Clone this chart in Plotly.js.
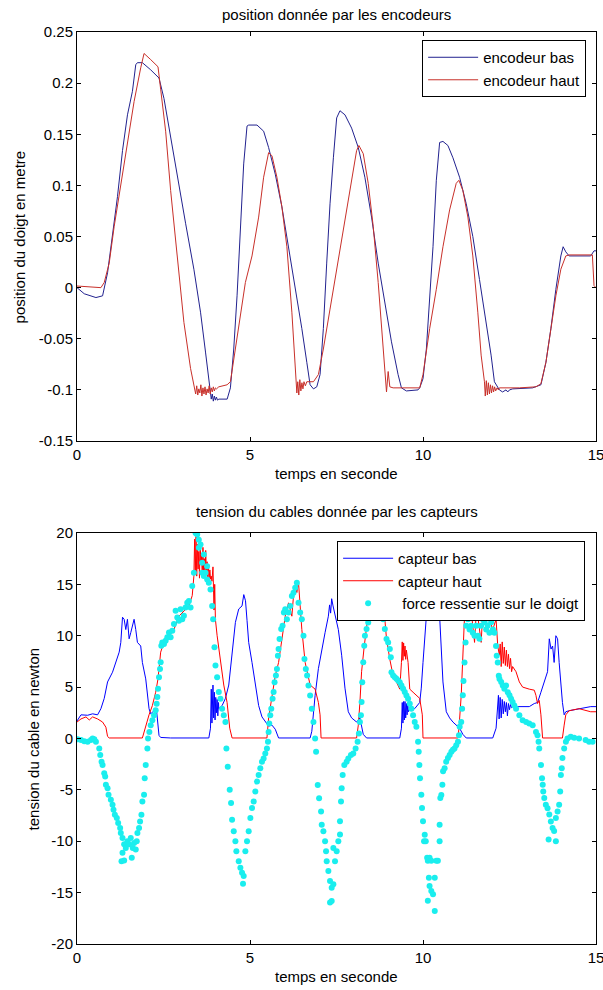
<!DOCTYPE html>
<html>
<head>
<meta charset="utf-8">
<script src="https://cdn.plot.ly/plotly-3.0.1.min.js"></script>
<style>html,body{margin:0;padding:0;background:#fff;}#chart{width:603px;height:990px;}</style>
</head>
<body>
<div id="chart"></div>
<script>
// ---- Titles / labels ----
const topTitle = "position donnée par les encodeurs";
const bottomTitle = "tension du cables donnée par les capteurs";
const xLabel = "temps en seconde";
const topYLabel = "position du doigt en metre";
const bottomYLabel = "tension du cable en newton";
const seriesNames = ["encodeur bas", "encodeur haut", "capteur bas", "capteur haut", "\u00a0force ressentie sur le doigt"];

// ---- Tick labels ----
const xTickVals = [0, 5, 10, 15];
const xTickText = ["0", "5", "10", "15"];
const topYTickVals = [-0.15, -0.1, -0.05, 0, 0.05, 0.1, 0.15, 0.2, 0.25];
const topYTickText = ["-0.15", "-0.1", "-0.05", "0", "0.05", "0.1", "0.15", "0.2", "0.25"];
const botYTickVals = [-20, -15, -10, -5, 0, 5, 10, 15, 20];
const botYTickText = ["-20", "-15", "-10", "-5", "0", "5", "10", "15", "20"];

// ---- encodeur bas (top, blue) ----
const encBasT = [0, 0.21, 0.547, 0.739, 0.883, 1.027, 1.17, 1.315, 1.459, 1.602, 1.698, 1.746, 1.89, 2.13, 2.37, 2.514, 2.706, 2.898, 3.138, 3.378, 3.57, 3.714, 3.81, 3.858,
  3.88, 3.91, 3.94, 3.97, 4.0, 4.03, 4.06, 4.1, 4.34, 4.434, 4.53, 4.626, 4.722, 4.818, 4.914,
  4.962, 5.202, 5.394, 5.538, 5.73, 5.922, 6.114, 6.306, 6.498, 6.642, 6.737, 6.834, 6.93, 7.025, 7.12, 7.217, 7.313, 7.41, 7.505, 7.6, 7.745, 7.937, 8.13, 8.32, 8.513, 8.705, 8.897, 9.089, 9.28, 9.377, 9.52, 9.856,
  9.905, 10.0, 10.097, 10.193, 10.289, 10.385, 10.481, 10.577, 10.72, 10.865, 11.057, 11.249, 11.44, 11.632, 11.824, 11.968, 12.064, 12.208, 12.3, 12.4, 12.45, 12.5, 12.592, 13.168, 13.408, 13.553, 13.696, 13.84, 13.984, 14.05, 14.127, 14.223, 14.847, 14.943, 15.0];
const encBasV = [0, -0.006, -0.0097, -0.008, 0.0145, 0.05, 0.089, 0.134, 0.169, 0.192, 0.218, 0.22, 0.22, 0.213, 0.205, 0.185, 0.147, 0.108, 0.063, 0.018, -0.024, -0.063, -0.092, -0.105,
  -0.109, -0.104, -0.111, -0.106, -0.11, -0.107, -0.11, -0.109, -0.109, -0.098, -0.06, -0.008, 0.056, 0.121, 0.158,
  0.159, 0.159, 0.153, 0.137, 0.111, 0.079, 0.04, -0.0016, -0.04, -0.073, -0.095, -0.099, -0.097, -0.085, -0.04, 0.024, 0.082, 0.127, 0.166, 0.173, 0.169, 0.156, 0.137, 0.108, 0.069, 0.024, -0.0145, -0.053, -0.085, -0.098, -0.101, -0.1,
  -0.098, -0.089, -0.06, -0.0145, 0.04, 0.105, 0.142, 0.143, 0.139, 0.127, 0.108, 0.082, 0.05, 0.008, -0.034, -0.066, -0.092, -0.1, -0.102, -0.1, -0.102, -0.1, -0.099, -0.098, -0.095, -0.073, -0.04, -0.0016, 0.031, 0.04, 0.035, 0.031, 0.031, 0.036, 0.036];

// ---- encodeur haut (top, red) ----
const encHautT = [0, 0.307, 0.691, 0.787, 0.931, 1.075, 1.266, 1.458, 1.65, 1.842, 1.938, 2.13, 2.341, 2.418, 2.562, 2.706, 2.898, 3.09, 3.282, 3.378,
  3.40, 3.43, 3.46, 3.49, 3.52, 3.55, 3.58, 3.61, 3.64, 3.67, 3.70, 3.73, 3.76, 3.79, 3.82, 3.85, 3.88, 3.91, 3.94, 3.97, 4.00, 4.03,
  4.098, 4.338, 4.434, 4.578, 4.722, 4.866, 5.058, 5.25, 5.394, 5.538, 5.634, 5.778, 5.922, 6.066, 6.21, 6.306, 6.354,
  6.38, 6.41, 6.44, 6.47, 6.50, 6.53, 6.56, 6.6,
  6.642, 6.834, 6.977, 7.12, 7.313, 7.505, 7.697, 7.889, 8.081, 8.148, 8.273, 8.417, 8.561, 8.705, 8.8, 8.897, 8.945, 8.993, 9.041, 9.137, 9.473, 9.905,
  10.0, 10.193, 10.385, 10.577, 10.769, 10.96, 11.037, 11.153, 11.297, 11.44, 11.584, 11.68, 11.776,
  11.80, 11.83, 11.86, 11.89, 11.92, 11.95, 11.98, 12.01, 12.04, 12.07, 12.10, 12.14, 12.18,
  12.208, 12.784, 13.264, 13.408, 13.553, 13.696, 13.84, 13.984, 14.127, 14.223, 14.895, 14.943, 15.0];
const encHautV = [0.0016, 0.001, 0, 0.005, 0.024, 0.06, 0.102, 0.144, 0.182, 0.215, 0.229, 0.223, 0.216, 0.194, 0.153, 0.095, 0.027, -0.034, -0.079, -0.098,
  -0.098, -0.104, -0.096, -0.105, -0.099, -0.103, -0.095, -0.106, -0.098, -0.104, -0.097, -0.105, -0.099, -0.103, -0.096, -0.104, -0.098, -0.102, -0.097, -0.101, -0.098, -0.099,
  -0.097, -0.095, -0.092, -0.06, -0.024, 0.005, 0.031, 0.069, 0.108, 0.132, 0.129, 0.108, 0.079, 0.04, -0.024, -0.073, -0.103,
  -0.092, -0.105, -0.09, -0.101, -0.093, -0.099, -0.092, -0.096,
  -0.092, -0.092, -0.085, -0.06, -0.021, 0.018, 0.056, 0.098, 0.134, 0.139, 0.131, 0.102, 0.06, 0.005, -0.04, -0.089, -0.102, -0.082, -0.097, -0.098, -0.098, -0.098,
  -0.085, -0.04, -0.0016, 0.04, 0.076, 0.102, 0.105, 0.095, 0.069, 0.031, -0.024, -0.066, -0.092,
  -0.106, -0.091, -0.105, -0.093, -0.104, -0.095, -0.103, -0.096, -0.102, -0.097, -0.101, -0.098, -0.1,
  -0.098, -0.098, -0.097, -0.094, -0.073, -0.04, -0.008, 0.018, 0.031, 0.032, 0.032, 0.002, 0.0];

// ---- capteur bas (bottom, blue) ----
const capBasT = [0, 0.115, 0.307, 0.451, 0.595, 0.691, 0.787, 0.883, 1.027, 1.123, 1.219, 1.266, 1.315, 1.363, 1.41, 1.458, 1.506, 1.554, 1.65, 1.698, 1.746, 1.842, 1.89, 1.986, 2.082, 2.13, 2.226, 2.303, 2.37, 2.418, 2.706, 3.81, 3.858,
  3.88, 3.90, 3.93, 3.95, 3.97, 3.99, 4.01, 4.03, 4.05, 4.07, 4.09,
  4.098, 4.194, 4.29, 4.386, 4.482, 4.578, 4.674, 4.77, 4.82, 4.87, 4.914, 4.962, 5.058, 5.154, 5.25, 5.346, 5.442, 5.538, 5.634, 5.73, 5.826, 6.738, 6.786, 6.882, 6.977, 7.073, 7.169, 7.265, 7.3, 7.33, 7.36, 7.4, 7.457, 7.553, 7.649, 7.745, 7.841, 7.937, 8.081, 8.177, 8.273, 8.369, 9.329, 9.377,
  9.40, 9.42, 9.44, 9.46, 9.48, 9.50, 9.52, 9.54, 9.56, 9.58,
  9.617, 9.76, 9.905, 9.95, 10.0, 10.049, 10.097, 10.15, 10.25, 10.35, 10.45, 10.481, 10.529, 10.577, 10.673, 10.769, 10.865, 10.96, 11.057, 11.153, 11.249, 12.016, 12.112, 12.18,
  12.20, 12.23, 12.26, 12.29, 12.32, 12.35, 12.38, 12.41, 12.44, 12.47, 12.50, 12.53, 12.56,
  12.592, 12.784, 13.072, 13.216, 13.312, 13.408, 13.504, 13.6, 13.65, 13.7, 13.745, 13.79, 13.84, 13.89, 13.935, 13.984, 14.03, 14.08, 14.127, 14.223, 14.51, 14.847, 15.0];
const capBasV = [1.7, 2.3, 2.26, 2.4, 2.3, 2.9, 3.9, 5.5, 6.45, 7.4, 8.4, 9.35, 11.8, 11.6, 10.6, 11.6, 9.7, 10.3, 11.6, 10.6, 9.35, 9.0, 7.4, 5.8, 2.9, 2.4, 2.7, 2.6, 0.3, 0.1, 0.05, 0.05, 1.0,
  4.8, 1.5, 5.2, 2.0, 4.5, 1.8, 4.0, 2.5, 3.8, 2.2, 3.5,
  2.9, 3.2, 3.9, 5.2, 8.1, 11.3, 12.6, 12.9, 14.0, 13.4, 11.5, 9.35, 7.4, 5.5, 3.2, 2.1, 1.6, 1.2, 1.3, 0.9, 0.05, 0.05, 0.7, 4.2, 6.8, 8.7, 10.3, 11.9, 13.0, 12.2, 13.6, 12.9, 12.0, 10.6, 8.1, 4.9, 2.6, 2.0, 1.6, 2.0, 0.4, 0.05, 0.05, 1.0,
  3.5, 1.5, 3.6, 1.8, 3.6, 2.0, 3.4, 2.3, 3.3, 2.6,
  2.9, 2.9, 3.5, 4.9, 7.4, 9.7, 11.9, 13.0, 12.6, 13.2, 12.8, 11.9, 8.4, 5.5, 2.6, 2.0, 1.6, 1.3, 1.0, 0.4, 0.05, 0.05, 1.0, 4.2,
  1.9, 4.0, 2.0, 3.8, 2.4, 3.6, 2.6, 3.5, 2.2, 3.4, 2.8, 3.3, 3.0,
  3.1, 3.1, 3.1, 3.4, 3.5, 4.5, 5.5, 6.5, 9.7, 8.7, 9.0, 7.4, 10.0, 9.7, 7.4, 5.2, 3.5, 2.3, 2.6, 2.7, 2.9, 3.1, 3.1];

// ---- capteur haut (bottom, red) ----
const capHautT = [0, 0.115, 0.259, 0.355, 0.451, 0.595, 0.739, 0.835, 0.883, 0.931, 1.89, 1.986, 2.082, 2.178, 2.274, 2.341, 2.418, 2.514, 2.658, 2.802, 2.946, 3.09, 3.234, 3.33, 3.378,
  3.40, 3.42, 3.44, 3.46, 3.48, 3.50, 3.52, 3.54, 3.56, 3.58, 3.60, 3.62, 3.64, 3.66, 3.68, 3.70, 3.72, 3.74, 3.76, 3.78, 3.80, 3.82, 3.84, 3.86, 3.88, 3.90, 3.93, 3.96, 3.98,
  4.0, 4.05, 4.146, 4.242, 4.338, 4.414, 4.482, 5.49, 5.538, 5.634, 5.73, 5.826, 5.922, 6.018, 6.114, 6.21, 6.258, 6.306, 6.354, 6.402, 6.45, 6.498, 6.594, 6.738, 6.882, 6.977, 7.025, 7.054,
  8.081, 8.13, 8.177, 8.225, 8.302, 8.369, 8.417, 8.5, 8.6, 8.7, 8.8, 8.897, 8.945, 9.041, 9.137, 9.233, 9.329, 9.377,
  9.40, 9.42, 9.44, 9.46, 9.48, 9.50, 9.52,
  9.569, 9.617, 9.713, 9.809, 9.905, 9.98, 10.0, 11.01, 11.04, 11.105, 11.153, 11.2, 11.25, 11.3, 11.345, 11.39, 11.49, 11.54, 11.585, 11.68, 11.73, 11.825, 11.92, 12.016, 12.112, 12.16, 12.208,
  12.23, 12.26, 12.29, 12.32, 12.35, 12.38, 12.41, 12.44, 12.47, 12.50, 12.53, 12.56, 12.59,
  12.688, 12.784, 12.88, 13.072, 13.216, 13.264, 13.31, 13.36, 13.408, 13.456, 14.03, 14.08, 14.127, 14.223, 14.51, 14.847, 15.0];
const capHautV = [1.6, 1.9, 2.1, 1.8, 2.1, 1.9, 1.6, 1.1, 0.2, 0.05, 0.05, 1.3, 2.3, 3.2, 4.5, 5.8, 8.4, 9.35, 10.0, 10.6, 11.9, 12.4, 12.9, 13.9, 15.8,
  19.4, 16.2, 19.8, 15.8, 18.9, 16.5, 18.2, 15.6, 19.2, 16.9, 17.8, 15.9, 18.6, 16.3, 17.5, 15.7, 18.3, 16.1, 17.2, 15.5, 16.8, 15.6, 16.4, 15.5, 15.8, 15.3, 16.7, 12.5, 15.0,
  11.6, 10.0, 7.4, 5.2, 3.5, 1.0, 0.05, 0.05, 2.0, 3.9, 6.1, 7.4, 9.7, 11.9, 13.2, 11.9, 13.9, 14.8, 14.2, 15.2, 12.9, 10.6, 7.4, 5.2, 4.8, 3.5, 2.3, 0.05,
  0.05, 1.3, 3.5, 6.5, 9.0, 10.9, 12.1, 13.2, 12.8, 13.6, 12.9, 11.6, 9.7, 7.7, 6.1, 5.5, 4.8, 7.4,
  9.4, 7.6, 9.3, 8.0, 9.0, 7.7, 8.6,
  7.4, 4.8, 4.5, 4.2, 3.9, 2.3, 0.05, 0.05, 1.0, 4.2, 9.0, 11.9, 13.5, 12.8, 11.9, 12.5, 9.35, 12.3, 11.9, 9.35, 12.4, 11.9, 11.6, 10.6, 11.6, 9.0, 8.1,
  9.2, 7.0, 9.4, 7.3, 8.9, 7.1, 8.6, 7.0, 8.2, 6.8, 7.8, 6.5, 7.0,
  6.5, 5.5, 5.0, 4.8, 4.7, 4.2, 3.4, 3.7, 2.3, 0.05, 0.05, 1.3, 2.3, 2.7, 2.9, 2.6, 2.6];

// ---- force ressentie sur le doigt (bottom, cyan dots) ----
const forceT = [0.019, 0.115, 0.21, 0.307, 0.403, 0.451, 0.5, 0.547, 0.643, 0.672, 0.71, 0.739, 0.787, 0.815, 0.835, 0.883, 0.911, 0.979, 1.027, 1.055, 1.094, 1.151, 1.19, 1.247, 1.266, 1.315, 1.363, 1.315, 1.286, 1.363, 1.41, 1.458, 1.506, 1.554, 1.583, 1.612, 1.65, 1.698, 1.727, 1.746, 1.794, 1.823, 1.862, 1.89, 1.938, 1.957, 1.986, 2.034, 2.053, 2.092, 2.13, 2.178, 2.226, 2.274, 2.303, 2.322, 2.341, 2.37, 2.399, 2.418, 2.437, 2.466, 2.514, 2.562, 2.61, 2.658, 2.706, 2.754, 2.802, 2.85, 2.898, 2.946, 2.994, 3.042, 3.09, 3.138, 3.186, 3.234, 3.282, 3.33, 3.378, 3.426, 3.474, 3.52, 3.522, 3.57, 3.618, 3.618, 3.666, 3.666, 3.714, 3.76, 3.762, 3.81, 3.858, 3.906, 3.935, 3.973, 4.002, 4.05, 4.098, 4.146, 4.194, 4.242, 4.29, 4.318, 4.357, 4.414, 4.453, 4.482, 4.53, 4.578, 4.606, 4.674, 4.722, 4.77, 4.818, 4.798,
  4.866, 4.914, 4.962, 5.01, 5.058, 5.106, 5.154, 5.202, 5.25, 5.298, 5.346, 5.394, 5.442, 5.49, 5.519, 5.538, 5.557, 5.586, 5.615, 5.653, 5.682, 5.71, 5.749, 5.778, 5.806, 5.826, 5.854, 5.902, 5.941, 5.979, 6.018, 6.066, 6.114, 6.162, 6.21, 6.258, 6.306, 6.354, 6.402, 6.45, 6.498, 6.546, 6.574, 6.613, 6.651, 6.69, 6.738, 6.786, 6.834, 6.882, 6.91, 6.958, 6.997, 7.054, 7.073, 7.121, 7.17, 7.198, 7.217, 7.265, 7.313, 7.361, 7.313, 7.361, 7.409, 7.457, 7.409, 7.505, 7.553, 7.601, 7.601, 7.63, 7.649, 7.678, 7.726, 7.793, 7.841, 7.918, 7.985, 8.052, 8.11, 8.148, 8.177, 8.206, 8.225, 8.244, 8.273, 8.302, 8.321, 8.369, 8.417, 8.465, 8.56, 8.65, 8.75, 8.849, 8.897, 8.945, 8.993, 9.041, 9.07, 9.089, 9.137, 9.185, 9.233, 9.281, 9.329, 9.377, 9.425, 9.473, 9.521, 9.569, 9.617, 9.665, 9.713, 9.761, 9.809, 9.857, 9.876, 9.895, 9.914, 9.952, 9.972, 10.0, 10.03,
  10.05, 10.08, 10.12, 10.14, 10.19, 10.24, 10.17, 10.19, 10.24, 10.14, 10.29, 10.34, 10.34, 10.385, 10.43, 10.48, 10.48, 10.5, 10.53, 10.56, 10.58, 10.625, 10.67, 10.72, 10.77, 10.82, 10.865, 10.91, 10.96, 11.01, 11.04, 11.06, 11.105, 11.13, 11.15, 11.17, 11.2, 11.23, 11.25, 11.3, 11.345, 11.39, 11.44, 11.49, 11.54, 11.585, 11.63, 11.68, 11.73, 11.78, 11.825, 11.87, 11.92, 11.97, 12.02, 12.065, 12.11, 12.13, 12.16, 12.19, 12.21, 12.26, 12.305, 12.35, 12.4, 12.45, 12.5, 12.545, 12.59, 12.64, 12.69, 12.785, 12.88, 12.98, 13.07, 13.17, 13.265, 13.31, 13.34, 13.36, 13.41, 13.44, 13.46, 13.475, 13.505, 13.55, 13.6, 13.65, 13.695, 13.745, 13.79, 13.63, 13.84, 13.84, 13.89, 13.935, 13.965, 13.985, 14.01, 14.03, 14.08, 14.13, 14.175, 14.27, 14.37, 14.51, 14.7, 14.8, 14.9];
const forceV = [-0.07, -0.16, -0.26, -0.33, -0.16, 0, -0.07, -0.33, -0.97, -1.6, -2.26, -2.58, -3.39, -3.71, -4.5, -4.84, -5.48, -5.97, -6.45, -6.94, -7.42, -7.74, -8.23, -8.71, -9.2, -9.68, -10.3, -11.13, -11.94, -11.87, -10.65, -10.0, -10.3, -9.68, -11.6, -10.65, -10.16, -10.81, -10.0, -9.2, -8.71, -8.07, -7.42, -6.13, -5.48, -3.87, -2.58, -0.97, 0, 0.64, 1.29, 1.77, 2.26, 2.74, 3.39, 4.03, 4.84, 5.97, 6.77, 7.42, 9.03, 9.35, 9.19, 9.52, 9.84, 10.32, 9.84, 10.48, 11.13, 12.42, 11.77, 11.45, 12.58, 11.61, 11.94, 12.74, 13.22, 13.39, 12.74, 14.84, 16.13, 20.0, 19.84, 19.35, 18.55, 18.87, 17.1, 16.13, 17.9, 15.8, 16.13, 16.77, 15.48, 15.16, 14.5, 12.9, 11.61, 8.87, 7.1, 5.97, 4.52, 3.87, 2.9, 2.26, 1.61, -0.97, -2.74, -5.0, -6.29, -7.9, -9.03, -10.0, -10.97, -11.94, -12.58, -13.07, -13.39, -14.13,
  -10.97, -10.0, -9.03, -7.74, -6.77, -6.13, -5.16, -4.19, -3.55, -2.9, -2.26, -1.94, -1.45, -0.97, -0.33, 0.64, 1.45, 2.26, 2.9, 3.87, 4.52, 5.48, 6.13, 6.77, 8.06, 8.71, 9.68, 10.65, 10.97, 12.26, 12.58, 11.61, 12.26, 12.9, 13.87, 14.19, 14.68, 15.16, 13.22, 12.26, 11.61, 10.0, 7.74, 6.77, 6.13, 5.16, 4.19, 2.9, 1.61, 0, -1.29, -4.52, -5.81, -7.1, -8.39, -9.03, -10.0, -10.97, -11.94, -12.9, -13.87, -14.52, -15.97, -15.81, -14.19, -11.94, -10.65, -10.97, -10.0, -9.35, -8.06, -6.13, -4.84, -3.55, -2.58, -2.26, -1.94, -1.61, -1.45, -0.97, -0.33, 0.48, 1.61, 2.26, 3.55, 5.48, 7.42, 9.03, 10.0, 10.65, 11.29, 11.77, 12.6, 13.4, 13.0, 11.61, 10.65, 9.68, 9.35, 8.71, 7.9, 6.45, 6.13, 5.97, 5.81, 5.65, 5.48, 5.16, 4.84, 4.52, 4.19, 3.87, 3.39, 2.9, 2.26, 1.61, 1.13, -0.33, -1.29, -2.58, -3.87, -5.48, -6.77, -8.06, -10.0,
  -9.36, -10.0, -11.6, -11.9, -11.6, -11.9, -13.55, -14.36, -14.84, -15.8, -15.16, -16.8, -13.55, -11.9, -11.9, -10.0, -8.39, -5.8, -5.5, -4.5, -3.2, -2.9, -2.26, -1.9, -1.6, -1.3, -1.1, -0.97, -0.65, -0.33, 0.32, 1.13, 1.6, 2.9, 4.2, 5.6, 7.4, 9.35, 10.97, 11.6, 10.6, 10.97, 10.3, 10.0, 10.97, 10.0, 9.7, 10.97, 11.6, 11.3, 10.6, 10.97, 10.3, 11.3, 10.6, 10.3, 9.0, 8.06, 7.4, 6.1, 5.8, 5.5, 5.16, 4.84, 5.16, 4.5, 4.2, 3.87, 3.55, 3.2, 2.9, 2.26, 1.77, 1.6, 1.45, 1.29, 0.64, 0.32, -0.33, -0.97, -2.58, -3.87, -4.5, -5.16, -5.8, -6.45, -6.8, -7.4, -8.07, -8.7, -9.0, -9.84, -10.0, -7.74, -7.1, -6.45, -5.16, -3.55, -2.9, -1.9, -0.97, -0.33, 0, 0.16, 0.06, 0, -0.16, -0.33, -0.33];

// ---- build the figure ----
const FONT = "'Liberation Sans', Arial, Helvetica, sans-serif";
const topDomain = [0.5515, 1];
const botDomain = [0, 0.4507];

const traces = [
  {x: encBasT, y: encBasV, type: 'scatter', mode: 'lines', name: seriesNames[0], xaxis: 'x', yaxis: 'y',
   line: {color: '#22228f', width: 1}, legend: 'legend'},
  {x: encHautT, y: encHautV, type: 'scatter', mode: 'lines', name: seriesNames[1], xaxis: 'x', yaxis: 'y',
   line: {color: '#c8302a', width: 1}, legend: 'legend'},
  {x: capBasT, y: capBasV, type: 'scatter', mode: 'lines', name: seriesNames[2], xaxis: 'x2', yaxis: 'y2',
   line: {color: '#0000ff', width: 1}, legend: 'legend2'},
  {x: capHautT, y: capHautV, type: 'scatter', mode: 'lines', name: seriesNames[3], xaxis: 'x2', yaxis: 'y2',
   line: {color: '#ff0000', width: 1}, legend: 'legend2'},
  {x: forceT, y: forceV, type: 'scatter', mode: 'markers', name: seriesNames[4], xaxis: 'x2', yaxis: 'y2',
   marker: {color: '#1aeeee', size: 6}, legend: 'legend2'}
];

const axisCommon = {
  showgrid: false, zeroline: false, showline: true, mirror: 'ticks', linecolor: '#000', linewidth: 1,
  ticks: 'inside', ticklen: 4, tickcolor: '#000', tickwidth: 1,
  tickfont: {family: FONT, size: 15, color: '#000'}, ticklabeloverflow: 'allow', fixedrange: true
};

const legendCommon = {
  bgcolor: '#ffffff', bordercolor: '#000000', borderwidth: 1, itemwidth: 50,
  font: {family: FONT, size: 15, color: '#000'}, xanchor: 'right', yanchor: 'top', xref: 'paper', yref: 'paper'
};

const annot = (text, x, y, opts) => Object.assign({text: text, x: x, y: y, xref: 'paper', yref: 'paper', showarrow: false,
  font: {family: FONT, size: 15, color: '#000'}}, opts || {});

const layout = {
  width: 603, height: 990,
  margin: {l: 77, r: 7, t: 32, b: 46, pad: 0},
  paper_bgcolor: '#fff', plot_bgcolor: '#fff',
  showlegend: true,
  xaxis: Object.assign({}, axisCommon, {domain: [0, 1], anchor: 'y', range: [0, 15], tickvals: xTickVals, ticktext: xTickText}),
  yaxis: Object.assign({}, axisCommon, {domain: topDomain, anchor: 'x', range: [-0.15, 0.25], tickvals: topYTickVals, ticktext: topYTickText}),
  xaxis2: Object.assign({}, axisCommon, {domain: [0, 1], anchor: 'y2', range: [0, 15], tickvals: xTickVals, ticktext: xTickText}),
  yaxis2: Object.assign({}, axisCommon, {domain: botDomain, anchor: 'x2', range: [-20, 20], tickvals: botYTickVals, ticktext: botYTickText}),
  legend: Object.assign({}, legendCommon, {x: 0.981, y: 0.9912}),
  legend2: Object.assign({}, legendCommon, {x: 0.979, y: 0.4419}),
  annotations: [
    annot(topTitle, 0.5, 1.0077, {yanchor: 'bottom', xanchor: 'center'}),
    annot(bottomTitle, 0.5, 0.4627, {yanchor: 'bottom', xanchor: 'center'}),
    annot(xLabel, 0.5, 0.5164, {yanchor: 'middle', xanchor: 'center'}),
    annot(xLabel, 0.5, -0.0351, {yanchor: 'middle', xanchor: 'center'}),
    annot(topYLabel, -0.11, (topDomain[0] + topDomain[1]) / 2, {textangle: -90, xanchor: 'center', yanchor: 'middle'}),
    annot(bottomYLabel, -0.0848, (botDomain[0] + botDomain[1]) / 2, {textangle: -90, xanchor: 'center', yanchor: 'middle'})
  ]
};

Plotly.newPlot('chart', traces, layout, {displayModeBar: false, staticPlot: true});
</script>
</body>
</html>
